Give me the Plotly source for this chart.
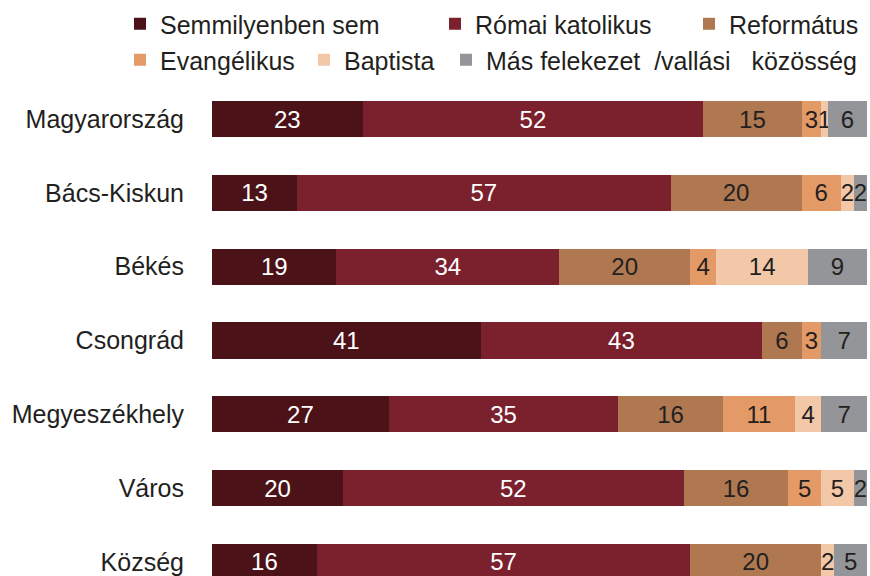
import plotly.graph_objects as go

categories = ["Magyarország", "Bács-Kiskun", "Békés", "Csongrád",
              "Megyeszékhely", "Város", "Község"]

series_names = ["Semmilyenben sem", "Római katolikus", "Református",
                "Evangélikus", "Baptista",
                "Más felekezet\u00a0\u00a0/vallási\u00a0\u00a0\u00a0közösség"]

semmilyenben = [23, 13, 19, 41, 27, 20, 16]
romai_katolikus = [52, 57, 34, 43, 35, 52, 57]
reformatus = [15, 20, 20, 6, 16, 16, 20]
evangelikus = [3, 6, 4, 3, 11, 5, 0]
baptista = [1, 2, 14, 0, 4, 5, 2]
mas = [6, 2, 9, 7, 7, 2, 5]

series_values = [semmilyenben, romai_katolikus, reformatus,
                 evangelikus, baptista, mas]

colors = ["#4B1218", "#7B202D", "#B07850", "#E39A66", "#F2C8A8", "#939598"]
text_colors = ["#FFFFFF", "#FFFFFF", "#231F20", "#231F20", "#231F20", "#231F20"]

W, H = 870, 576
legend_text_x = [160, 475, 729, 160, 344, 486]
legend_text_y = [24, 24, 24, 60, 60, 60]
FONT = "Liberation Sans, Arial, sans-serif"

fig = go.Figure()
legend_ids = ["legend", "legend2", "legend3", "legend4", "legend5", "legend6"]
for i, (name, vals) in enumerate(zip(series_names, series_values)):
    fig.add_trace(go.Bar(
        y=categories, x=vals, orientation="h", name=name,
        marker=dict(color=colors[i], line=dict(width=0)),
        width=0.49,
        text=[str(v) if v > 0 else "" for v in vals],
        textposition="inside", insidetextanchor="middle", textangle=0,
        textfont=dict(color=text_colors[i], size=24, family=FONT),
        cliponaxis=False,
        legend=legend_ids[i],
        hoverinfo="x+y+name",
    ))

layout_legends = {}
for i, lid in enumerate(legend_ids):
    layout_legends[lid] = dict(
        xref="container", yref="container",
        x=(legend_text_x[i] - 40) / W, y=1 - legend_text_y[i] / H,
        xanchor="left", yanchor="middle",
        bgcolor="rgba(0,0,0,0)", borderwidth=0,
        font=dict(size=25, color="#231F20", family=FONT),
        orientation="h", tracegroupgap=0,
    )

fig.update_layout(
    width=W, height=H,
    barmode="stack",
    margin=dict(l=212, r=3, t=80, b=0, autoexpand=False),
    plot_bgcolor="white", paper_bgcolor="white",
    font=dict(family=FONT, size=25, color="#231F20"),
    uniformtext=dict(minsize=24, mode="show"),
    showlegend=True,
    xaxis=dict(range=[0, 100], visible=False, fixedrange=True),
    yaxis=dict(categoryorder="array", categoryarray=categories,
               range=[6.19, -0.53], showgrid=False, zeroline=False,
               showline=False, ticks="", ticklabelstandoff=27,
               tickfont=dict(size=25, color="#231F20"), fixedrange=True),
    **layout_legends,
)

fig.write_html("out.html",
               config={"displayModeBar": False},
               post_script="document.body.style.margin='0';")
